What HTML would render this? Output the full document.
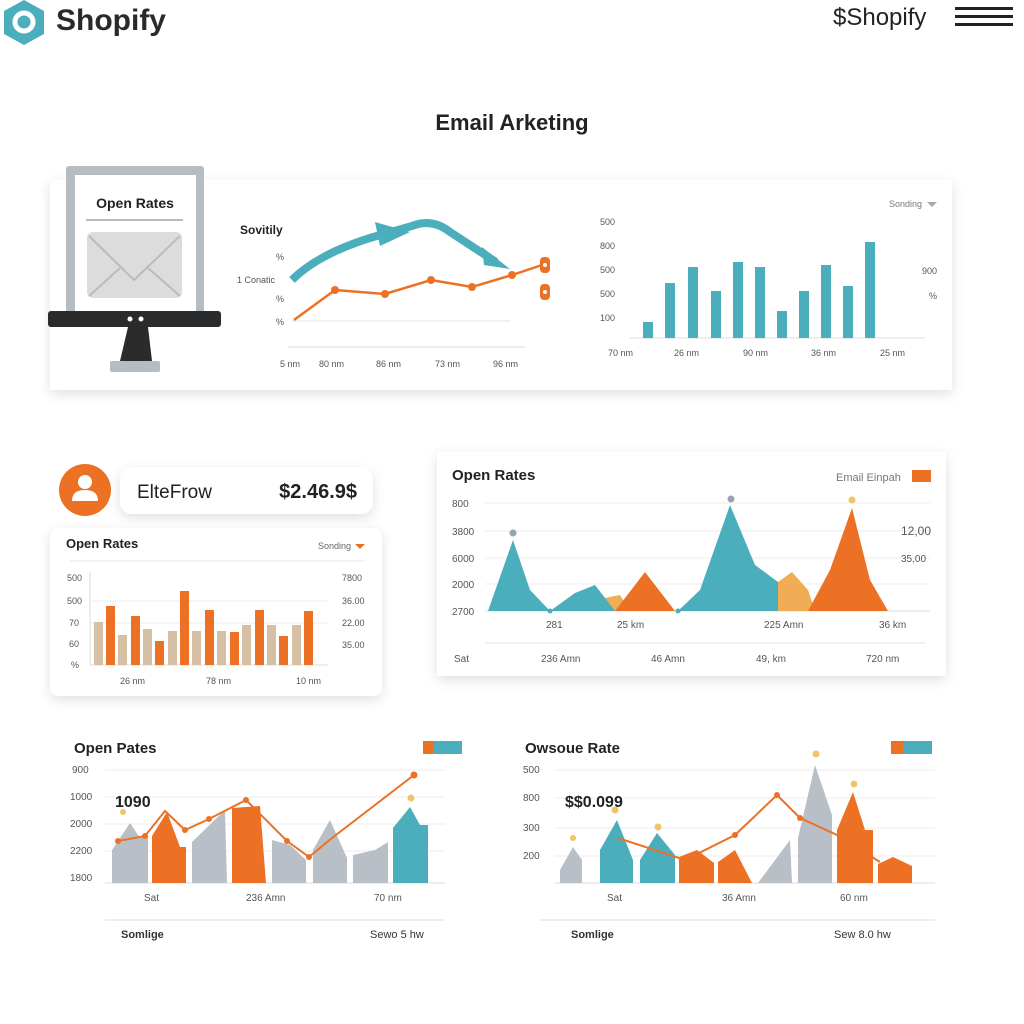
<!DOCTYPE html>
<html><head><meta charset="utf-8"><style>
body{margin:0;background:#fff;}
svg{display:block;font-family:"Liberation Sans",sans-serif;}
</style></head><body>
<svg width="1024" height="1024" viewBox="0 0 1024 1024" xmlns="http://www.w3.org/2000/svg">
<defs>
<filter id="sh" x="-10%" y="-10%" width="120%" height="130%"><feDropShadow dx="0" dy="4" stdDeviation="6" flood-color="#000" flood-opacity="0.12"/></filter>
</defs>
<rect width="1024" height="1024" fill="#fff"/>
<!-- header -->
<polygon points="24,0 44,11 44,34 24,45 4,34 4,11" fill="#4aaebc"/>
<circle cx="24" cy="22" r="9" fill="none" stroke="#fff" stroke-width="5"/>
<text x="56" y="30" font-size="30" font-weight="bold" fill="#2a2a2a">Shopify</text>
<text x="833" y="25" font-size="24" fill="#222">$Shopify</text>
<rect x="955" y="7" width="58" height="3" fill="#222"/><rect x="955" y="15" width="58" height="3" fill="#222"/><rect x="955" y="23" width="58" height="3" fill="#222"/>
<text x="512" y="130" font-size="22" font-weight="bold" text-anchor="middle" fill="#222">Email Arketing</text>

<!-- top card -->
<rect x="50" y="180" width="902" height="210" fill="#fff" filter="url(#sh)"/>
<rect x="66" y="166" width="138" height="148" fill="#b5bcc2" rx="3"/>
<rect x="75" y="175" width="121" height="138" fill="#fff"/>
<text x="135" y="208" font-size="14" font-weight="bold" text-anchor="middle" fill="#222">Open Rates</text>
<rect x="86" y="219" width="97" height="2" fill="#b5bcc2"/>
<rect x="87" y="232" width="95" height="66" rx="6" fill="#dcdcdc"/>
<polyline points="89,236 134,280 180,236" fill="none" stroke="#bbb" stroke-width="2"/>
<line x1="89" y1="296" x2="120" y2="268" stroke="#bbb" stroke-width="2"/><line x1="180" y1="296" x2="148" y2="268" stroke="#bbb" stroke-width="2"/>
<rect x="48" y="311" width="173" height="16" rx="3" fill="#2b2b2b"/>
<circle cx="130" cy="319" r="2.5" fill="#fff"/><circle cx="141" cy="319" r="2.5" fill="#fff"/>
<polygon points="128,327 148,327 152,361 120,361" fill="#2b2b2b"/>
<rect x="110" y="361" width="50" height="11" rx="2" fill="#b5bcc2"/>
<!-- line chart -->
<text x="240" y="234" font-size="12" font-weight="bold" fill="#222">Sovitily</text>
<g font-size="9" fill="#555"><text x="276" y="260">%</text><text x="237" y="283">1 Conatic</text><text x="276" y="302">%</text><text x="276" y="325">%</text>
<text x="280" y="367">5 nm</text><text x="319" y="367">80 nm</text><text x="376" y="367">86 nm</text><text x="435" y="367">73 nm</text><text x="493" y="367">96 nm</text></g>
<line x1="292" y1="321" x2="510" y2="321" stroke="#e6e6e6"/>
<line x1="288" y1="347" x2="525" y2="347" stroke="#ddd"/>
<path d="M292,280 Q320,252 380,235 L412,226 Q432,218 450,232 L496,262" fill="none" stroke="#4aaebc" stroke-width="8"/>
<polygon points="375,222 410,232 380,246" fill="#4aaebc"/><polygon points="482,247 510,269 484,265" fill="#4aaebc"/>
<polyline points="294,320 335,290 385,294 431,280 472,287 512,275 545,264" fill="none" stroke="#ec7125" stroke-width="2.5"/>
<g fill="#ec7125"><circle cx="335" cy="290" r="4"/><circle cx="385" cy="294" r="4"/><circle cx="431" cy="280" r="4"/><circle cx="472" cy="287" r="4"/><circle cx="512" cy="275" r="4"/>
<rect x="540" y="257" width="10" height="16" rx="4"/><rect x="540" y="284" width="10" height="16" rx="4"/></g>
<circle cx="545" cy="265" r="2" fill="#fff"/><circle cx="545" cy="292" r="2" fill="#fff"/>
<!-- bar chart -->
<g font-size="9" fill="#555"><text x="600" y="225">500</text><text x="600" y="249">800</text><text x="600" y="273">500</text><text x="600" y="297">500</text><text x="600" y="321">100</text>
<text x="922" y="274">900</text><text x="929" y="299">%</text>
<text x="608" y="356">70 nm</text><text x="674" y="356">26 nm</text><text x="743" y="356">90 nm</text><text x="811" y="356">36 nm</text><text x="880" y="356">25 nm</text>
<text x="889" y="207" fill="#777">Sonding</text></g>
<polygon points="927,202 937,202 932,207" fill="#aaa"/>
<line x1="630" y1="338" x2="925" y2="338" stroke="#ddd"/>
<g fill="#4aaebc"><rect x="643" y="322" width="10" height="16"/><rect x="665" y="283" width="10" height="55"/><rect x="688" y="267" width="10" height="71"/><rect x="711" y="291" width="10" height="47"/><rect x="733" y="262" width="10" height="76"/><rect x="755" y="267" width="10" height="71"/><rect x="777" y="311" width="10" height="27"/><rect x="799" y="291" width="10" height="47"/><rect x="821" y="265" width="10" height="73"/><rect x="843" y="286" width="10" height="52"/><rect x="865" y="242" width="10" height="96"/></g>

<!-- middle left -->
<circle cx="85" cy="490" r="26" fill="#ec7125"/>
<circle cx="85" cy="482" r="7" fill="#fff"/><path d="M72,501 Q72,490 85,490 Q98,490 98,501 Z" fill="#fff"/>
<rect x="120" y="467" width="253" height="47" rx="12" fill="#fff" filter="url(#sh)"/>
<text x="137" y="498" font-size="19" fill="#222">EltеFrow</text>
<text x="357" y="498" font-size="20" font-weight="bold" text-anchor="end" fill="#222">$2.46.9$</text>
<rect x="50" y="528" width="332" height="168" rx="8" fill="#fff" filter="url(#sh)"/>
<text x="66" y="548" font-size="13" font-weight="bold" fill="#222">Open Rates</text>
<text x="318" y="549" font-size="9" fill="#666">Sonding</text><polygon points="355,544 365,544 360,549" fill="#ec7125"/>
<line x1="70" y1="561" x2="365" y2="561" stroke="#e6e6e6"/>
<line x1="90" y1="572" x2="90" y2="665" stroke="#ddd"/><line x1="90" y1="665" x2="328" y2="665" stroke="#ddd"/>
<line x1="90" y1="601" x2="328" y2="601" stroke="#eee"/><line x1="90" y1="623" x2="328" y2="623" stroke="#eee"/>
<g font-size="9" fill="#555"><text x="67" y="581">500</text><text x="67" y="604">500</text><text x="69" y="626">70</text><text x="69" y="647">60</text><text x="71" y="668">%</text>
<text x="342" y="581">7800</text><text x="342" y="604">36.00</text><text x="342" y="626">22.00</text><text x="342" y="648">35.00</text>
<text x="120" y="684">26 nm</text><text x="206" y="684">78 nm</text><text x="296" y="684">10 nm</text></g>
<g fill="#d5bfa5"><rect x="94" y="622" width="9" height="43"/><rect x="118" y="635" width="9" height="30"/><rect x="143" y="629" width="9" height="36"/><rect x="168" y="631" width="9" height="34"/><rect x="192" y="631" width="9" height="34"/><rect x="217" y="631" width="9" height="34"/><rect x="242" y="625" width="9" height="40"/><rect x="267" y="625" width="9" height="40"/><rect x="292" y="625" width="9" height="40"/></g>
<g fill="#ec7125"><rect x="106" y="606" width="9" height="59"/><rect x="131" y="616" width="9" height="49"/><rect x="155" y="641" width="9" height="24"/><rect x="180" y="591" width="9" height="74"/><rect x="205" y="610" width="9" height="55"/><rect x="230" y="632" width="9" height="33"/><rect x="255" y="610" width="9" height="55"/><rect x="279" y="636" width="9" height="29"/><rect x="304" y="611" width="9" height="54"/></g>

<!-- middle right big card -->
<rect x="437" y="452" width="509" height="224" fill="#fff" filter="url(#sh)"/>
<text x="452" y="480" font-size="15" font-weight="bold" fill="#222">Open Rates</text>
<text x="836" y="481" font-size="11" fill="#777">Email Einpah</text>
<rect x="912" y="470" width="19" height="12" fill="#ec7125"/>
<g stroke="#eee"><line x1="485" y1="503" x2="930" y2="503"/><line x1="485" y1="531" x2="930" y2="531"/><line x1="485" y1="558" x2="930" y2="558"/><line x1="485" y1="584" x2="930" y2="584"/><line x1="485" y1="611" x2="930" y2="611" stroke="#ddd"/></g>
<g font-size="10" fill="#555"><text x="452" y="507">800</text><text x="452" y="535">3800</text><text x="452" y="562">6000</text><text x="452" y="588">2000</text><text x="452" y="615">2700</text>
<text x="901" y="535" font-size="12">12,00</text><text x="901" y="562">35,00</text>
<text x="546" y="628">281</text><text x="617" y="628">25 km</text><text x="764" y="628">225 Amn</text><text x="879" y="628">36 km</text>
<text x="454" y="662">Sat</text><text x="541" y="662">236 Amn</text><text x="651" y="662">46 Amn</text><text x="756" y="662">49, km</text><text x="866" y="662">720 nm</text></g>
<line x1="485" y1="643" x2="925" y2="643" stroke="#e3e3e3"/>
<polygon points="600,611 605,598 620,595 630,611" fill="#f0ad55"/>
<polygon points="488,611 513,540 530,590 550,611 575,593 595,585 615,611" fill="#4aaebc"/>
<polygon points="615,611 645,572 675,611" fill="#ec7125"/>
<polygon points="778,611 778,582 792,572 808,590 815,611" fill="#f0ad55"/>
<polygon points="678,611 700,590 730,505 755,565 778,582 778,611" fill="#4aaebc"/>
<polygon points="808,611 830,570 852,508 870,580 888,611" fill="#ec7125"/>
<circle cx="513" cy="533" r="3.5" fill="#99a4b0"/><circle cx="731" cy="499" r="3.5" fill="#99a4b0"/><circle cx="852" cy="500" r="3.5" fill="#f2c46a"/>
<circle cx="550" cy="611" r="2.5" fill="#4aaebc"/><circle cx="678" cy="611" r="2.5" fill="#4aaebc"/>

<!-- bottom left -->
<text x="74" y="753" font-size="15" font-weight="bold" fill="#222">Open Pates</text>
<rect x="423" y="741" width="11" height="13" fill="#ec7125"/><rect x="434" y="741" width="28" height="13" fill="#4aaebc"/>
<g stroke="#eee"><line x1="105" y1="770" x2="445" y2="770"/><line x1="105" y1="797" x2="445" y2="797"/><line x1="105" y1="824" x2="445" y2="824"/><line x1="105" y1="851" x2="445" y2="851"/><line x1="105" y1="883" x2="445" y2="883" stroke="#ddd"/></g>
<g font-size="10" fill="#555"><text x="72" y="773">900</text><text x="70" y="800">1000</text><text x="70" y="827">2000</text><text x="70" y="854">2200</text><text x="70" y="881">1800</text>
<text x="144" y="901">Sat</text><text x="246" y="901">236 Amn</text><text x="374" y="901">70 nm</text></g>
<polygon points="112,883 112,850 130,823 140,838 148,836 148,883" fill="#b8bfc6"/>
<polygon points="152,883 152,836 167,812 180,847 186,847 186,883" fill="#ec7125"/>
<polygon points="192,883 192,842 225,810 227,883" fill="#b8bfc6"/>
<polygon points="232,883 232,808 260,806 266,883" fill="#ec7125"/>
<polygon points="272,883 272,840 290,845 306,860 306,883" fill="#b8bfc6"/>
<polygon points="313,883 313,850 330,820 347,858 347,883" fill="#b8bfc6"/>
<polygon points="353,883 353,855 375,850 388,842 388,883" fill="#b8bfc6"/>
<polygon points="393,883 393,828 410,807 420,825 428,825 428,883" fill="#4aaebc"/>
<polyline points="118,841 145,836 165,811 185,830 209,819 246,800 287,841 309,857 332,838 414,775" fill="none" stroke="#ec7125" stroke-width="2"/>
<g fill="#ec7125"><circle cx="118" cy="841" r="3"/><circle cx="145" cy="836" r="3"/><circle cx="185" cy="830" r="3"/><circle cx="209" cy="819" r="3"/><circle cx="246" cy="800" r="3"/><circle cx="287" cy="841" r="3"/><circle cx="309" cy="857" r="3"/><circle cx="414" cy="775" r="3.5"/></g>
<circle cx="123" cy="812" r="3" fill="#f2c46a"/><circle cx="411" cy="798" r="3.5" fill="#f2c46a"/>
<text x="115" y="807" font-size="16" font-weight="bold" fill="#222">1090</text>
<line x1="105" y1="920" x2="445" y2="920" stroke="#ddd"/>
<text x="121" y="938" font-size="11" font-weight="bold" fill="#333">Somlige</text>
<text x="370" y="938" font-size="11" fill="#333">Sewo 5 hw</text>

<!-- bottom right -->
<text x="525" y="753" font-size="15" font-weight="bold" fill="#222">Owsoue Rate</text>
<rect x="891" y="741" width="12" height="13" fill="#ec7125"/><rect x="903" y="741" width="29" height="13" fill="#4aaebc"/>
<g stroke="#eee"><line x1="555" y1="770" x2="935" y2="770"/><line x1="555" y1="798" x2="935" y2="798"/><line x1="555" y1="828" x2="935" y2="828"/><line x1="555" y1="856" x2="935" y2="856"/><line x1="555" y1="883" x2="935" y2="883" stroke="#ddd"/></g>
<g font-size="10" fill="#555"><text x="523" y="773">500</text><text x="523" y="801">800</text><text x="523" y="831">300</text><text x="523" y="859">200</text>
<text x="607" y="901">Sat</text><text x="722" y="901">36 Amn</text><text x="840" y="901">60 nm</text></g>
<polygon points="560,883 560,870 573,847 582,860 582,883" fill="#b8bfc6"/>
<polygon points="600,883 600,850 617,820 633,860 633,883" fill="#4aaebc"/>
<polygon points="640,883 640,860 657,833 675,855 675,883" fill="#4aaebc"/>
<polygon points="679,883 679,857 697,850 714,863 714,883" fill="#ec7125"/>
<polygon points="718,883 718,862 735,850 752,883" fill="#ec7125"/>
<polygon points="758,883 790,840 792,883" fill="#b8bfc6"/>
<polygon points="798,883 798,838 815,765 832,815 832,883" fill="#b8bfc6"/>
<polygon points="837,883 837,830 853,792 865,830 873,830 873,883" fill="#ec7125"/>
<polygon points="878,883 878,864 893,857 912,866 912,883" fill="#ec7125"/>
<polyline points="618,838 685,860 735,835 777,795 800,818 837,835 880,862" fill="none" stroke="#ec7125" stroke-width="2"/>
<g fill="#ec7125"><circle cx="735" cy="835" r="3"/><circle cx="777" cy="795" r="3"/><circle cx="800" cy="818" r="3"/></g>
<g fill="#f2c46a"><circle cx="573" cy="838" r="3"/><circle cx="615" cy="810" r="3.5"/><circle cx="658" cy="827" r="3.5"/><circle cx="816" cy="754" r="3.5"/><circle cx="854" cy="784" r="3.5"/></g>
<text x="565" y="807" font-size="16" font-weight="bold" fill="#222">$$0.099</text>
<line x1="540" y1="920" x2="935" y2="920" stroke="#ddd"/>
<text x="571" y="938" font-size="11" font-weight="bold" fill="#333">Somlige</text>
<text x="834" y="938" font-size="11" fill="#333">Sew 8.0 hw</text>
</svg>
</body></html>
